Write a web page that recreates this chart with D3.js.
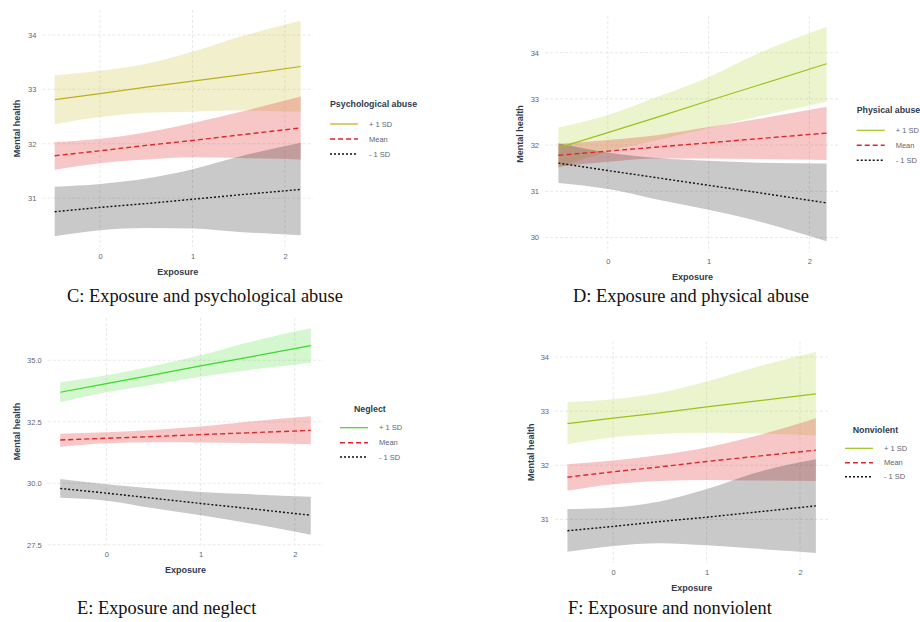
<!DOCTYPE html>
<html>
<head>
<meta charset="utf-8">
<script src="https://cdn.jsdelivr.net/npm/d3@7"></script>
<style>
  html, body { margin: 0; padding: 0; background: #fff; }
  svg { display: block; }
</style>
</head>
<body>
<div id="chart"></div>
<script>
const exposure = [-0.49, 0, 0.5, 1, 1.5, 2.17];
const levels = ["+ 1 SD", "Mean", "- 1 SD"];
const xTicks = [0, 1, 2];

// C: psychological abuse
const psychHighFit = [32.81, 32.92, 33.04, 33.15, 33.26, 33.42];
const psychHighLower = [32.36, 32.49, 32.57, 32.59, 32.61, 32.59];
const psychHighUpper = [33.26, 33.34, 33.47, 33.69, 33.96, 34.26];
const psychMeanFit = [31.78, 31.87, 31.97, 32.06, 32.16, 32.29];
const psychMeanLower = [31.52, 31.64, 31.71, 31.75, 31.74, 31.71];
const psychMeanUpper = [32.03, 32.09, 32.21, 32.38, 32.58, 32.87];
const psychLowFit = [30.75, 30.83, 30.90, 30.98, 31.06, 31.16];
const psychLowLower = [30.30, 30.41, 30.45, 30.44, 30.38, 30.32];
const psychLowUpper = [31.21, 31.26, 31.36, 31.53, 31.76, 32.02];
const psychYTicks = [31, 32, 33, 34];

// D: physical abuse
const physHighFit = [31.94, 32.27, 32.61, 32.96, 33.30, 33.76];
const physHighLower = [31.50, 31.86, 32.11, 32.37, 32.62, 32.94];
const physHighUpper = [32.38, 32.65, 33.05, 33.47, 33.99, 34.56];
const physMeanFit = [31.78, 31.87, 31.96, 32.05, 32.14, 32.26];
const physMeanLower = [31.53, 31.64, 31.71, 31.71, 31.70, 31.68];
const physMeanUpper = [32.03, 32.11, 32.22, 32.39, 32.57, 32.83];
const physLowFit = [31.61, 31.45, 31.29, 31.13, 30.97, 30.75];
const physLowLower = [31.18, 31.05, 30.82, 30.60, 30.35, 29.92];
const physLowUpper = [32.04, 31.84, 31.72, 31.66, 31.62, 31.60];
const physYTicks = [30, 31, 32, 33, 34];

// E: neglect
const neglHighFit = [33.70, 34.05, 34.41, 34.77, 35.12, 35.60];
const neglHighLower = [33.29, 33.70, 34.02, 34.33, 34.60, 34.90];
const neglHighUpper = [34.11, 34.39, 34.77, 35.20, 35.72, 36.30];
const neglMeanFit = [31.76, 31.83, 31.90, 31.98, 32.05, 32.15];
const neglMeanLower = [31.49, 31.63, 31.67, 31.66, 31.64, 31.59];
const neglMeanUpper = [32.01, 32.07, 32.17, 32.31, 32.50, 32.72];
const neglLowFit = [29.79, 29.60, 29.39, 29.18, 28.98, 28.70];
const neglLowLower = [29.41, 29.29, 28.98, 28.70, 28.39, 27.91];
const neglLowUpper = [30.17, 29.96, 29.79, 29.65, 29.56, 29.45];
const neglYTicks = [27.5, 30, 32.5, 35];

// F: nonviolent
const nonvHighFit = [32.77, 32.87, 32.97, 33.08, 33.18, 33.32];
const nonvHighLower = [32.39, 32.52, 32.58, 32.60, 32.59, 32.55];
const nonvHighUpper = [33.17, 33.22, 33.34, 33.55, 33.80, 34.10];
const nonvMeanFit = [31.78, 31.88, 31.97, 32.07, 32.16, 32.28];
const nonvMeanLower = [31.53, 31.65, 31.71, 31.73, 31.72, 31.71];
const nonvMeanUpper = [32.02, 32.09, 32.19, 32.33, 32.53, 32.87];
const nonvLowFit = [30.79, 30.87, 30.96, 31.04, 31.13, 31.25];
const nonvLowLower = [30.40, 30.51, 30.56, 30.52, 30.46, 30.38];
const nonvLowUpper = [31.19, 31.22, 31.33, 31.56, 31.85, 32.11];
const nonvYTicks = [31, 32, 33, 34];

const width = 920, height = 622;
const titleColor = "#2f3b4f";
const tickColor = "#5f6670";
const meanColor = "#e0262a";

function series(fit, lower, upper) {
    return exposure.map((x, i) => ({ x, fit: fit[i], lower: lower[i], upper: upper[i] }));
}

// line styles for the three moderator levels
function levelStyle(i, highColor, highAlpha) {
    if (i === 0) return { stroke: highColor, dash: null, width: 1.2, fill: highColor, alpha: highAlpha };
    if (i === 1) return { stroke: meanColor, dash: "5,3", width: 1.4, fill: "#e03030", alpha: 0.27 };
    return { stroke: "#111", dash: "2,2", width: 1.4, fill: "#000", alpha: 0.21 };
}

const panels = [
    {
        legendTitle: "Psychological abuse", caption: "C: Exposure and psychological abuse",
        data: [series(psychHighFit, psychHighLower, psychHighUpper),
               series(psychMeanFit, psychMeanLower, psychMeanUpper),
               series(psychLowFit, psychLowLower, psychLowUpper)],
        yTicks: psychYTicks, fmt: d3.format("d"), highColor: "#c9bd2c", highAlpha: 0.24, highLine: "#bcb01a",
        plot: { left: 42.4, right: 313, top: 10, bottom: 247 }, yTitleX: 17,
        legend: { titleX: 330, titleY: 104, keyX: 330, rows: [124, 139, 154] },
        captionX: 67, captionY: 302
    },
    {
        legendTitle: "Physical abuse", caption: "D: Exposure and physical abuse",
        data: [series(physHighFit, physHighLower, physHighUpper),
               series(physMeanFit, physMeanLower, physMeanUpper),
               series(physLowFit, physLowLower, physLowUpper)],
        yTicks: physYTicks, fmt: d3.format("d"), highColor: "#a8cc22", highAlpha: 0.22, highLine: "#9cc21a",
        plot: { left: 545, right: 840, top: 16, bottom: 252 }, yTitleX: 520,
        legend: { titleX: 856.7, titleY: 110, keyX: 856.7, rows: [130.3, 145.3, 160.3] },
        captionX: 573, captionY: 302
    },
    {
        legendTitle: "Neglect", caption: "E: Exposure and neglect",
        data: [series(neglHighFit, neglHighLower, neglHighUpper),
               series(neglMeanFit, neglMeanLower, neglMeanUpper),
               series(neglLowFit, neglLowLower, neglLowUpper)],
        yTicks: neglYTicks, fmt: d3.format(".1f"), highColor: "#3ddc2a", highAlpha: 0.22, highLine: "#3cd82a",
        plot: { left: 47.7, right: 323.3, top: 318, bottom: 545 }, yTitleX: 17.3,
        legend: { titleX: 354, titleY: 408.7, keyX: 340, rows: [427.7, 442.7, 457] },
        captionX: 77, captionY: 614
    },
    {
        legendTitle: "Nonviolent", caption: "F: Exposure and nonviolent",
        data: [series(nonvHighFit, nonvHighLower, nonvHighUpper),
               series(nonvMeanFit, nonvMeanLower, nonvMeanUpper),
               series(nonvLowFit, nonvLowLower, nonvLowUpper)],
        yTicks: nonvYTicks, fmt: d3.format("d"), highColor: "#a8cc22", highAlpha: 0.22, highLine: "#9cc21a",
        plot: { left: 555, right: 828.3, top: 341.6, bottom: 563 }, yTitleX: 531,
        legend: { titleX: 852.7, titleY: 429.7, keyX: 845, rows: [448.3, 462.7, 476.7] },
        captionX: 568, captionY: 614
    }
];

const svg = d3.select("#chart").append("svg")
    .attr("width", width)
    .attr("height", height)
    .style("font-family", "'Liberation Sans', Arial, sans-serif");

svg.append("rect").attr("width", width).attr("height", height).attr("fill", "#fff");

panels.forEach(p => {
    const g = svg.append("g");
    const all = p.data.flat();

    // ggplot style 5% expansion on both axes
    const xExt = d3.extent(exposure);
    const xPad = (xExt[1] - xExt[0]) * 0.05;
    const yExt = [d3.min(all, d => d.lower), d3.max(all, d => d.upper)];
    const yPad = (yExt[1] - yExt[0]) * 0.05;

    const x = d3.scaleLinear().domain([xExt[0] - xPad, xExt[1] + xPad]).range([p.plot.left, p.plot.right]);
    const y = d3.scaleLinear().domain([yExt[0] - yPad, yExt[1] + yPad]).range([p.plot.bottom, p.plot.top]);

    // grid
    g.append("g").selectAll("line").data(p.yTicks).join("line")
        .attr("x1", p.plot.left).attr("x2", p.plot.right)
        .attr("y1", d => y(d)).attr("y2", d => y(d))
        .attr("stroke", "#e3e3e3").attr("stroke-width", 0.8).attr("stroke-dasharray", "3,2");
    g.append("g").selectAll("line").data(xTicks).join("line")
        .attr("x1", d => x(d)).attr("x2", d => x(d))
        .attr("y1", p.plot.top).attr("y2", p.plot.bottom)
        .attr("stroke", "#e3e3e3").attr("stroke-width", 0.8).attr("stroke-dasharray", "3,2");

    const area = d3.area()
        .x(d => x(d.x)).y0(d => y(d.lower)).y1(d => y(d.upper))
        .curve(d3.curveMonotoneX);
    const line = d3.line().x(d => x(d.x)).y(d => y(d.fit));

    p.data.forEach((s, i) => {
        const st = levelStyle(i, p.highColor, p.highAlpha);
        g.append("path").attr("d", area(s))
            .attr("fill", st.fill).attr("fill-opacity", st.alpha);
    });
    p.data.forEach((s, i) => {
        const st = levelStyle(i, p.highLine, p.highAlpha);
        g.append("path").attr("d", line(s))
            .attr("fill", "none").attr("stroke", st.stroke)
            .attr("stroke-width", st.width)
            .attr("stroke-dasharray", st.dash);
    });

    // axes (labels only, theme_minimal look)
    const yAxis = g.append("g")
        .attr("transform", `translate(${p.plot.left},0)`)
        .call(d3.axisLeft(y).tickValues(p.yTicks).tickFormat(p.fmt).tickSize(0).tickPadding(6));
    const xAxis = g.append("g")
        .attr("transform", `translate(0,${p.plot.bottom})`)
        .call(d3.axisBottom(x).tickValues(xTicks).tickFormat(d3.format("d")).tickSize(0).tickPadding(7));
    [yAxis, xAxis].forEach(a => {
        a.select(".domain").remove();
        a.selectAll("text").attr("fill", tickColor).style("font-size", "7.5px")
            .style("font-family", "'Liberation Sans', Arial, sans-serif");
    });

    g.append("text")
        .attr("x", (p.plot.left + p.plot.right) / 2)
        .attr("y", p.plot.bottom + 28)
        .attr("text-anchor", "middle")
        .attr("fill", titleColor)
        .style("font-size", "9px").style("font-weight", "bold")
        .text("Exposure");

    g.append("text")
        .attr("transform", `translate(${p.yTitleX},${(p.plot.top + p.plot.bottom) / 2}) rotate(-90)`)
        .attr("text-anchor", "middle")
        .attr("dy", "0.35em")
        .attr("fill", titleColor)
        .style("font-size", "9px").style("font-weight", "bold")
        .text("Mental health");

    // legend
    const lg = g.append("g");
    lg.append("text")
        .attr("x", p.legend.titleX).attr("y", p.legend.titleY)
        .attr("dy", "0.35em")
        .attr("fill", titleColor)
        .style("font-size", "8.8px").style("font-weight", "bold")
        .text(p.legendTitle);
    levels.forEach((lab, i) => {
        const st = levelStyle(i, p.highLine, p.highAlpha);
        const ry = p.legend.rows[i];
        lg.append("line")
            .attr("x1", p.legend.keyX).attr("x2", p.legend.keyX + 28)
            .attr("y1", ry).attr("y2", ry)
            .attr("stroke", st.stroke).attr("stroke-width", st.width)
            .attr("stroke-dasharray", st.dash);
        lg.append("text")
            .attr("x", p.legend.keyX + 39).attr("y", ry)
            .attr("dy", "0.35em")
            .attr("fill", tickColor)
            .style("font-size", "7.5px")
            .text(lab);
    });

    // caption under the panel
    svg.append("text")
        .attr("x", p.captionX).attr("y", p.captionY)
        .attr("fill", "#111")
        .style("font-family", "'Liberation Serif', 'Times New Roman', serif")
        .style("font-size", "18.4px")
        .text(p.caption);
});
</script>
</body>
</html>
